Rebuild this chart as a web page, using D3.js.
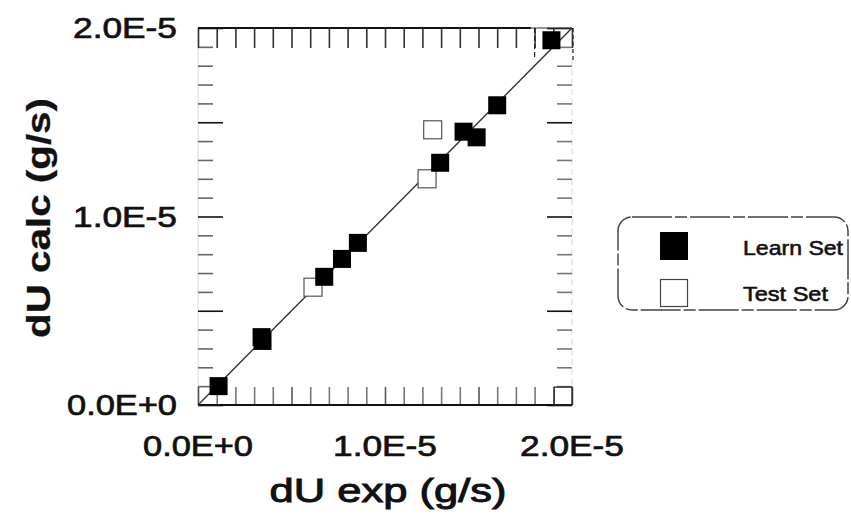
<!DOCTYPE html>
<html>
<head>
<meta charset="utf-8">
<script src="https://cdn.jsdelivr.net/npm/d3@7"></script>
<style>
  html, body { margin: 0; padding: 0; background: #fff; }
  svg { display: block; }
  text { font-family: "Liberation Sans", Arial, sans-serif; fill: #111; stroke: #111; stroke-width: 0.7px; }
</style>
</head>
<body>
<svg id="chart" width="851" height="516"></svg>
<script>
// Learn set: experimental vs calculated dU (g/s)
const learnExp  = [1.1e-6, 3.4e-6, 3.45e-6, 6.75e-6, 7.7e-6, 8.55e-6, 12.95e-6, 14.2e-6, 14.9e-6, 16.0e-6, 18.9e-6];
const learnCalc = [1.0e-6, 3.6e-6, 3.4e-6, 6.8e-6, 7.75e-6, 8.6e-6, 12.85e-6, 14.5e-6, 14.2e-6, 15.9e-6, 19.35e-6];
// Test set
const testExp  = [6.15e-6, 12.25e-6, 12.55e-6];
const testCalc = [6.25e-6, 12.0e-6, 14.6e-6];

const tickValues = [0, 1e-5, 2e-5];
const tickLabels = ["0.0E+0", "1.0E-5", "2.0E-5"];
const legendLabels = ["Learn Set", "Test Set"];

const svg = d3.select("#chart");
const x = d3.scaleLinear().domain([0, 2e-5]).range([198, 572]);
const y = d3.scaleLinear().domain([0, 2e-5]).range([405, 28]);

const minor = d3.range(0, 21).map(i => i * 1e-6);
const isMajor = v => Math.abs(Math.round(v / 5e-6) * 5e-6 - v) < 1e-9;

// faint side frame lines
svg.append("line").attr("x1", x(0)).attr("x2", x(0)).attr("y1", y(0)).attr("y2", y(2e-5))
  .attr("stroke", "#dcdcdc").attr("stroke-width", 1);
svg.append("line").attr("x1", x(2e-5)).attr("x2", x(2e-5)).attr("y1", y(0)).attr("y2", y(2e-5))
  .attr("stroke", "#d8d8d8").attr("stroke-width", 1).attr("stroke-dasharray", "6 4");

// inward ticks on all four sides
function tickAxis(axisFn, scale, size, transform, minorColor, majorColor) {
  const g = svg.append("g").attr("transform", transform);
  g.call(axisFn(scale).tickValues(minor).tickSizeInner(size).tickSizeOuter(0).tickFormat(""));
  g.select(".domain").remove();
  g.selectAll(".tick line")
    .attr("stroke", d => isMajor(d) ? majorColor : minorColor).attr("stroke-width", 1.6);
  return g;
}
const gl = tickAxis(d3.axisLeft, y, -15, `translate(${x(0)},0)`, "#666", "#111");
gl.selectAll(".tick line").attr("x2", d => isMajor(d) ? 25 : 15);
const gr = tickAxis(d3.axisRight, y, -15, `translate(${x(2e-5)},0)`, "#777", "#111");
gr.selectAll(".tick line").attr("x2", d => isMajor(d) ? -25 : -15);
tickAxis(d3.axisTop, x, -20, `translate(0,${y(2e-5)})`, "#333", "#333");
tickAxis(d3.axisBottom, x, -18, `translate(0,${y(0)})`, "#777", "#555");

// top and bottom frame lines
svg.append("line").attr("x1", x(0)).attr("x2", x(1.78e-5)).attr("y1", y(2e-5)).attr("y2", y(2e-5))
  .attr("stroke", "#111").attr("stroke-width", 2.2);
svg.append("line").attr("x1", x(1.78e-5)).attr("x2", x(2e-5)).attr("y1", y(2e-5)).attr("y2", y(2e-5))
  .attr("stroke", "#333").attr("stroke-width", 1.2);
svg.append("line").attr("x1", x(0)).attr("x2", x(2e-5)).attr("y1", y(0)).attr("y2", y(0))
  .attr("stroke", "#111").attr("stroke-width", 2);

// small corner frames
svg.append("line").attr("x1", x(1.8e-5)).attr("x2", x(1.8e-5)).attr("y1", y(2e-5)).attr("y2", y(1.83e-5))
  .attr("stroke", "#222").attr("stroke-width", 1.2).attr("stroke-dasharray", "5 3");
svg.append("line").attr("x1", x(2e-5) + 1).attr("x2", x(2e-5) + 1).attr("y1", y(2e-5)).attr("y2", y(1.83e-5))
  .attr("stroke", "#222").attr("stroke-width", 1.2).attr("stroke-dasharray", "4 3");
svg.append("rect").attr("x", x(1.905e-5)).attr("y", y(0.95e-6))
  .attr("width", x(2e-5) - x(1.905e-5)).attr("height", y(0) - y(0.95e-6))
  .attr("fill", "none").attr("stroke", "#222").attr("stroke-width", 1.2);

// y = x reference line
svg.append("line").attr("x1", x(0)).attr("y1", y(0)).attr("x2", x(2e-5)).attr("y2", y(2e-5))
  .attr("stroke", "#333").attr("stroke-width", 1.4);

// markers
const S = 18;
svg.append("g").selectAll("rect").data(d3.zip(testExp, testCalc)).join("rect")
  .attr("x", d => x(d[0]) - S / 2).attr("y", d => y(d[1]) - S / 2)
  .attr("width", S).attr("height", S)
  .attr("fill", "#fff").attr("stroke", "#555").attr("stroke-width", 1.2);
svg.append("g").selectAll("rect").data(d3.zip(learnExp, learnCalc)).join("rect")
  .attr("x", d => x(d[0]) - S / 2).attr("y", d => y(d[1]) - S / 2)
  .attr("width", S).attr("height", S)
  .attr("fill", "#000");

// tick labels
svg.append("g").selectAll("text").data(tickValues).join("text")
  .attr("x", d => x(d)).attr("y", 456)
  .attr("text-anchor", "middle").attr("font-size", 29)
  .attr("textLength", (d, i) => i === 0 ? 110 : 104).attr("lengthAdjust", "spacingAndGlyphs")
  .text((d, i) => tickLabels[i]);
svg.append("g").selectAll("text").data(tickValues).join("text")
  .attr("x", 177).attr("y", d => y(d) + 10)
  .attr("text-anchor", "end").attr("font-size", 29)
  .attr("textLength", (d, i) => i === 0 ? 110 : 104).attr("lengthAdjust", "spacingAndGlyphs")
  .text((d, i) => tickLabels[i]);

// axis titles
svg.append("text").attr("x", 388).attr("y", 502)
  .attr("text-anchor", "middle").attr("font-size", 34).style("stroke-width", "1px")
  .attr("textLength", 237).attr("lengthAdjust", "spacingAndGlyphs")
  .text("dU exp (g/s)");
svg.append("text").attr("transform", "translate(50,218) rotate(-90)")
  .attr("text-anchor", "middle").attr("font-size", 33).attr("font-weight", "bold")
  .style("stroke-width", "0.3px")
  .attr("textLength", 240).attr("lengthAdjust", "spacingAndGlyphs")
  .text("dU calc (g/s)");

// legend
const lg = svg.append("g");
lg.append("rect").attr("x", 618).attr("y", 217).attr("width", 230).attr("height", 93)
  .attr("rx", 14).attr("fill", "#fff").attr("stroke", "#444").attr("stroke-width", 1.5)
  .attr("stroke-dasharray", "40 3 12 3");
lg.append("rect").attr("x", 660).attr("y", 232).attr("width", 28).attr("height", 28).attr("fill", "#000");
lg.append("rect").attr("x", 660.5).attr("y", 279.5).attr("width", 27).attr("height", 27)
  .attr("fill", "#fff").attr("stroke", "#444").attr("stroke-width", 1.2);
lg.selectAll("text.lab").data(legendLabels).join("text").attr("class", "lab")
  .attr("x", 743).attr("y", (d, i) => i === 0 ? 255 : 301)
  .attr("font-size", 21).style("stroke-width", "0.6px")
  .attr("textLength", (d, i) => i === 0 ? 100 : 85).attr("lengthAdjust", "spacingAndGlyphs")
  .text(d => d);
</script>
</body>
</html>
